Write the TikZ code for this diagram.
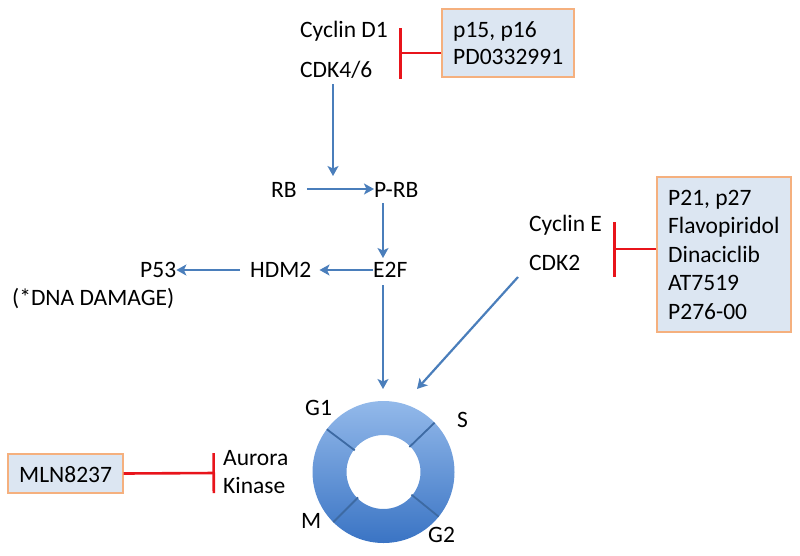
\documentclass[tikz,border=0pt]{standalone}
\usepackage{fontspec}
\setmainfont{Carlito}
\usetikzlibrary{arrows.meta,calc}
\definecolor{arrblue}{HTML}{4A7EBB}
\definecolor{inhred}{HTML}{E8141B}
\definecolor{boxfill}{HTML}{DCE6F2}
\definecolor{boxline}{HTML}{F5B07E}
\definecolor{ringtop}{HTML}{93B9EA}
\definecolor{ringbot}{HTML}{3A74C4}
\definecolor{ringline}{HTML}{3D6AA3}
\begin{document}
\begin{tikzpicture}[x=1pt,y=-1pt,
  font=\fontsize{23.5}{28}\selectfont,
  lbl/.style={inner sep=0pt,anchor=base west},
  drugbox/.style={draw=boxline,line width=1.2pt,fill=boxfill,inner sep=0pt},
  act/.style={draw=arrblue,line width=2.2pt,-{Stealth[length=10pt,width=11pt,inset=2.5pt]}},
  inh/.style={draw=inhred,line width=2.6pt}]
\useasboundingbox (0,0) rectangle (800,555);

% top: Cyclin D1 / CDK4/6 and inhibitors
\node[lbl] (cycd) at (300,37) {Cyclin D1};
\node[lbl] (cdk46) at (300,77) {CDK4/6};
\node[drugbox,minimum width=132pt,minimum height=68pt] (box1) at (508,43) {};
\node[lbl] (b1a) at (453,37) {p15, p16};
\node[lbl] (b1b) at (453,64) {PD0332991};
\coordinate (t1) at (399,53);
\draw[inh,-{Bar[width=51pt,line width=2.6pt]}] (box1.west |- t1) -- (t1);

% RB pathway
\node[lbl] (rb) at (271,197) {RB};
\node[lbl] (prb) at (374,197) {P-RB};
\node[lbl] (e2f) at (373,277) {E2F};
\node[lbl] (hdm2) at (250,277) {HDM2};
\node[lbl] (p53) at (140,277) {P53};
\node[lbl] (dna) at (12,305) {(*DNA DAMAGE)};

\draw[act] ($(cdk46.south -| 333,0)+(0,6)$) -- (333,176);
\draw[act] ($(rb.east |- 0,189)+(10,0)$) -- (prb.west |- 0,189);
\draw[act] ($(prb.south -| 383,0)+(0,6)$) -- (383,258);
\draw[act] (e2f.west |- 0,270) -- ($(hdm2.east |- 0,270)+(8,0)$);
\draw[act] ($(hdm2.west |- 0,270)+(-10,0)$) -- (p53.east |- 0,270);

% Cyclin E / CDK2 and inhibitors
\node[lbl] (cyce) at (529,231) {Cyclin E};
\node[lbl] (cdk2) at (529,270) {CDK2};
\node[drugbox,minimum width=134pt,minimum height=155pt] (box2) at (724,254.5) {};
\node[lbl] (b2a) at (668,205) {P21, p27};
\node[lbl] (b2b) at (668,233.5) {Flavopiridol};
\node[lbl] (b2c) at (668,262) {Dinaciclib};
\node[lbl] (b2d) at (668,290.5) {AT7519};
\node[lbl] (b2e) at (668,319) {P276-00};
\coordinate (t2) at (613,249);
\draw[inh,-{Bar[width=55pt,line width=2.6pt]}] (box2.west |- t2) -- (t2);

% cell-cycle ring
\coordinate (ring) at (383.5,472);
\shade[top color=ringtop,bottom color=ringbot,even odd rule]
  (ring) circle[radius=71pt] (ring) circle[radius=37pt];
\foreach \a in {143,44,-39,-135}
  \draw[ringline,line width=1.8pt] ($(ring)+(\a:36pt)$) -- ($(ring)+(\a:71pt)$);

\node[lbl] (g1) at (305,415) {G1};
\node[lbl] (s) at (457,427) {S};
\node[lbl] (m) at (301,528) {M};
\node[lbl] (g2) at (428,542) {G2};

\draw[act] ($(e2f.south -| 383,0)+(0,8)$) -- (383,389);
\coordinate (ce) at (518,277);
\draw[act] (ce) -- (417,389);

% Aurora kinase and inhibitor
\node[lbl] (aur) at (223,465) {Aurora};
\node[lbl] (kin) at (223,493) {Kinase};
\node[drugbox,minimum width=115pt,minimum height=39pt] (box3) at (65.5,473.5) {};
\node[lbl] (b3) at (19,482) {MLN8237};
\coordinate (t3) at (215,473);
\draw[inh,-{Bar[width=40pt,line width=2.6pt]}] (box3.east) -- (t3);
\end{tikzpicture}
\end{document}
